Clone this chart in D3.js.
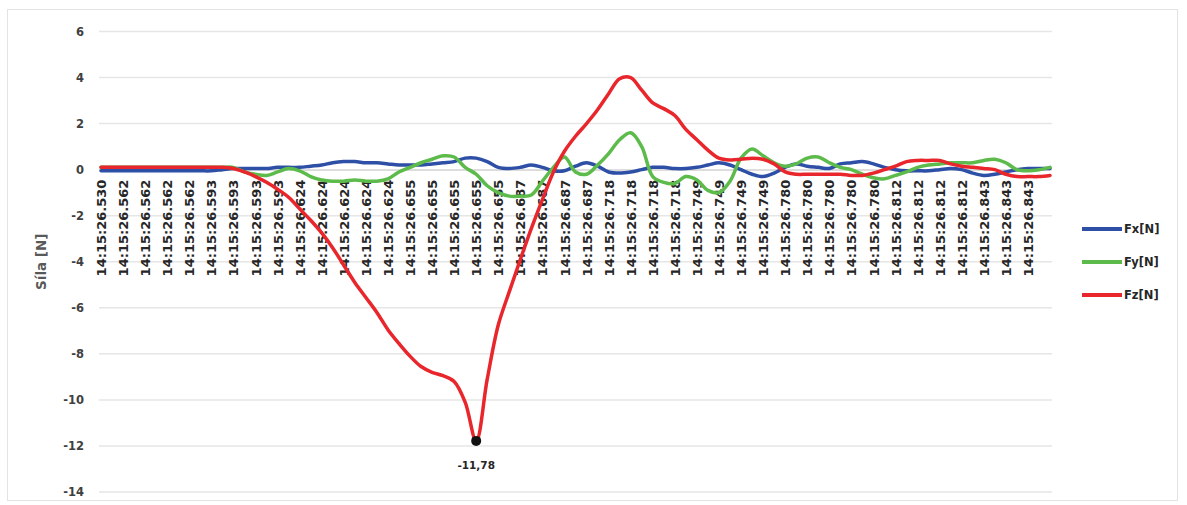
<!DOCTYPE html>
<html>
<head>
<meta charset="utf-8">
<script src="https://cdn.jsdelivr.net/npm/d3@7"></script>
<style>
  html, body { margin: 0; padding: 0; background: #fff; }
  svg { display: block; font-family: "DejaVu Sans", sans-serif; }
</style>
</head>
<body>
<svg id="chart" width="1187" height="505"></svg>
<script>
// Category labels (timestamps), one per two samples
const tickLabels = [
  "14:15:26.530",
  "14:15:26.562", "14:15:26.562", "14:15:26.562", "14:15:26.562",
  "14:15:26.593", "14:15:26.593", "14:15:26.593", "14:15:26.593",
  "14:15:26.624", "14:15:26.624", "14:15:26.624", "14:15:26.624", "14:15:26.624",
  "14:15:26.655", "14:15:26.655", "14:15:26.655", "14:15:26.655", "14:15:26.655",
  "14:15:26.687", "14:15:26.687", "14:15:26.687", "14:15:26.687",
  "14:15:26.718", "14:15:26.718", "14:15:26.718", "14:15:26.718",
  "14:15:26.749", "14:15:26.749", "14:15:26.749", "14:15:26.749",
  "14:15:26.780", "14:15:26.780", "14:15:26.780", "14:15:26.780", "14:15:26.780",
  "14:15:26.812", "14:15:26.812", "14:15:26.812", "14:15:26.812",
  "14:15:26.843", "14:15:26.843", "14:15:26.843"
];

const yTicks = [6, 4, 2, 0, -2, -4, -6, -8, -10, -12, -14];

// Force components in newtons
const fx = [
  -0.05, -0.05, -0.05, -0.05, -0.05, -0.05, -0.05, -0.05, -0.05, -0.05,
  -0.05, 0.0, 0.05, 0.05, 0.05, 0.05, 0.1, 0.1, 0.1, 0.15,
  0.2, 0.3, 0.35, 0.35, 0.3, 0.3, 0.25, 0.2, 0.2, 0.2,
  0.25, 0.3, 0.35, 0.5, 0.5, 0.35, 0.1, 0.05, 0.1, 0.2,
  0.1, -0.05, -0.05, 0.15, 0.3, 0.15, -0.1, -0.15, -0.1, 0.0,
  0.1, 0.1, 0.05, 0.05, 0.1, 0.2, 0.3, 0.2, 0.0, -0.2,
  -0.3, -0.15, 0.1, 0.25, 0.15, 0.1, 0.05, 0.25, 0.3, 0.35,
  0.25, 0.1, 0.0, -0.05, -0.05, -0.05, 0.0, 0.05, 0.0, -0.15,
  -0.25, -0.2, -0.1, 0.0, 0.05, 0.05, 0.05
];
const fy = [
  0.1, 0.1, 0.1, 0.1, 0.1, 0.1, 0.1, 0.1, 0.1, 0.1,
  0.1, 0.1, 0.1, -0.1, -0.2, -0.25, -0.1, 0.05, -0.05, -0.3,
  -0.45, -0.5, -0.5, -0.45, -0.5, -0.5, -0.4, -0.1, 0.1, 0.3,
  0.45, 0.6, 0.55, 0.1, -0.2, -0.7, -1.0, -1.15, -1.15, -1.1,
  -0.5, 0.1, 0.55, -0.1, -0.2, 0.2, 0.7, 1.3, 1.6, 1.0,
  -0.3, -0.55, -0.6, -0.3, -0.45, -0.9, -1.0, -0.5, 0.5, 0.9,
  0.6, 0.3, 0.15, 0.25, 0.5, 0.55, 0.3, 0.1, 0.0, -0.2,
  -0.35, -0.4, -0.25, -0.1, 0.1, 0.2, 0.25, 0.3, 0.3, 0.3,
  0.4, 0.45, 0.3, 0.0, -0.05, 0.0, 0.1
];
const fz = [
  0.1, 0.1, 0.1, 0.1, 0.1, 0.1, 0.1, 0.1, 0.1, 0.1,
  0.1, 0.1, 0.05, -0.1, -0.3, -0.55, -0.85, -1.2, -1.7, -2.2,
  -2.75, -3.4, -4.15, -4.9, -5.55, -6.2, -6.95, -7.55, -8.1, -8.55,
  -8.8, -8.95, -9.2, -10.1, -11.78, -9.1, -6.75, -5.3, -3.9, -2.55,
  -1.3, -0.1, 0.8, 1.45, 2.0, 2.6, 3.3, 3.95, 4.0, 3.45,
  2.9, 2.65, 2.35, 1.75, 1.3, 0.85, 0.5, 0.42, 0.45, 0.5,
  0.45, 0.25, -0.1, -0.2, -0.2, -0.2, -0.2, -0.2, -0.25, -0.25,
  -0.15, 0.0, 0.15, 0.35, 0.4, 0.4, 0.4, 0.25, 0.15, 0.1,
  0.05, 0.0, -0.2, -0.3, -0.3, -0.3, -0.25
];

const seriesNames = ["Fx[N]", "Fy[N]", "Fz[N]"];
const seriesColors = ["#2d4fa6", "#5cbb4a", "#e8262b"];
const seriesData = [fx, fy, fz];

const svg = d3.select("#chart");

// chart frame
svg.append("rect")
  .attr("x", 7.5).attr("y", 9.5).attr("width", 1170).attr("height", 491)
  .attr("fill", "#fff").attr("stroke", "#e3e3e3");

const plot = { left: 101, right: 1050, top: 31.5, bottom: 492 };
const n = fz.length;

const x = d3.scaleLinear().domain([0, n - 1]).range([plot.left, plot.right]);
const y = d3.scaleLinear().domain([-14, 6]).range([plot.bottom, plot.top]);

// horizontal gridlines
svg.append("g")
  .selectAll("line")
  .data(yTicks)
  .join("line")
  .attr("x1", plot.left - 2).attr("x2", plot.right + 2)
  .attr("y1", d => y(d)).attr("y2", d => y(d))
  .attr("stroke", "#e6e6e6").attr("stroke-width", 1.5);

// value axis labels (plain hyphen for negatives)
const yAxis = d3.axisLeft(y).tickValues(yTicks).tickSize(0).tickPadding(0)
  .tickFormat(d => String(d));
svg.append("g")
  .attr("transform", `translate(${plot.left - 17},0)`)
  .call(yAxis)
  .call(g => g.select(".domain").remove())
  .call(g => g.selectAll("text")
    .attr("font-family", "DejaVu Sans, sans-serif")
    .attr("font-size", 11.5).attr("font-weight", "bold").attr("fill", "#404040"));

// axis title
svg.append("text")
  .attr("transform", `translate(46,${(plot.top + plot.bottom) / 2}) rotate(-90)`)
  .attr("text-anchor", "middle")
  .attr("font-size", 13.5).attr("font-weight", "bold").attr("fill", "#595959")
  .text("Síla [N]");

// category axis along the zero line
const labelIdx = d3.range(0, tickLabels.length).map(k => k * 2);
const xAxis = d3.axisBottom(x).tickValues(labelIdx).tickSize(0)
  .tickFormat(d => tickLabels[d / 2]);
svg.append("g")
  .attr("transform", `translate(0,${y(0)})`)
  .call(xAxis)
  .call(g => g.select(".domain").attr("stroke", "#d0d0d0"))
  .call(g => g.selectAll("text")
    .attr("font-family", "DejaVu Sans, sans-serif")
    .attr("font-size", 13).attr("font-weight", "bold").attr("fill", "#262626")
    .attr("transform", "rotate(-90)")
    .attr("text-anchor", "end")
    .attr("x", -10).attr("y", 0).attr("dy", "0.35em"));

// series lines
const line = d3.line()
  .x((d, i) => x(i))
  .y(d => y(d))
  .curve(d3.curveCatmullRom.alpha(0.5));

svg.append("g")
  .selectAll("path")
  .data(seriesData)
  .join("path")
  .attr("d", d => line(d))
  .attr("fill", "none")
  .attr("stroke", (d, i) => seriesColors[i])
  .attr("stroke-width", 3.5)
  .attr("stroke-linejoin", "round")
  .attr("stroke-linecap", "round");

// minimum of Fz marked with its value
const minIdx = d3.minIndex(fz);
const minVal = fz[minIdx];
const fmtComma = d3.formatLocale({ decimal: ",", thousands: " ", grouping: [3], currency: ["", ""], minus: "-" }).format(".2f");
svg.append("circle")
  .attr("cx", x(minIdx)).attr("cy", y(minVal)).attr("r", 5)
  .attr("fill", "#111");
svg.append("text")
  .attr("x", x(minIdx)).attr("y", y(minVal) + 28)
  .attr("text-anchor", "middle")
  .attr("font-size", 10.5).attr("font-weight", "bold").attr("fill", "#262626")
  .text(fmtComma(minVal));

// legend
const legend = svg.append("g").attr("transform", "translate(1082,229)");
const items = legend.selectAll("g")
  .data(seriesNames)
  .join("g")
  .attr("transform", (d, i) => `translate(0,${i * 33})`);
items.append("line")
  .attr("x1", 0).attr("x2", 40).attr("y1", 0).attr("y2", 0)
  .attr("stroke", (d, i) => seriesColors[i]).attr("stroke-width", 4);
items.append("text")
  .attr("x", 42).attr("y", 0).attr("dy", "0.35em")
  .attr("font-size", 11.5).attr("font-weight", "bold").attr("fill", "#262626")
  .text(d => d);
</script>
</body>
</html>
